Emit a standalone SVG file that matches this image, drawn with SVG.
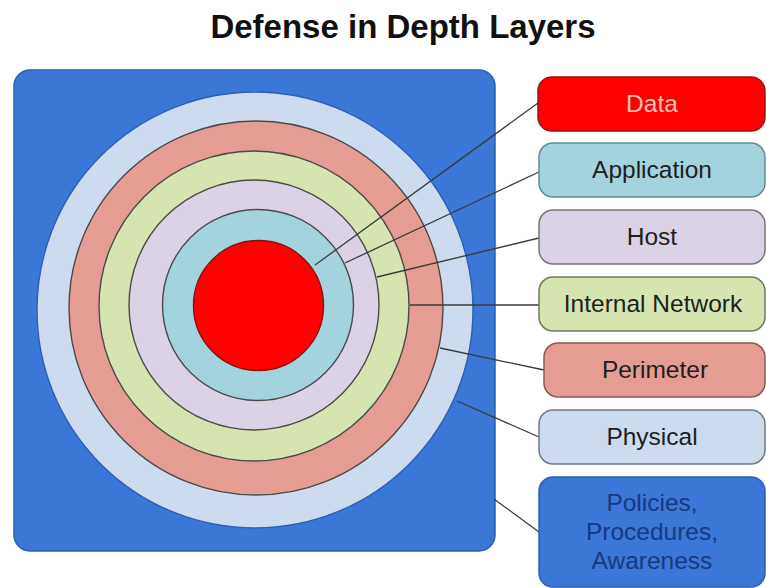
<svg xmlns="http://www.w3.org/2000/svg" width="766" height="588" viewBox="0 0 766 588">
<style>
  .ring { stroke: #4a4a4a; stroke-width: 1.4; }
  .box { stroke-width: 1.5; }
  .lbl { font-family: "Liberation Sans", Arial, sans-serif; font-size: 24.5px; text-anchor: middle; fill: #1e1e1e; }
  .conn line { stroke: #3a3a3a; stroke-width: 1.3; }
</style>
<rect width="766" height="588" fill="#ffffff"/>
<text x="403" y="38" font-family="Liberation Sans, Arial, sans-serif" font-weight="bold" font-size="33" text-anchor="middle" fill="#111">Defense in Depth Layers</text>

<g id="policies-area">
  <rect x="14" y="70" width="481" height="481" rx="16" fill="#3b77d6" stroke="#2c5fb3" stroke-width="1.5"/>
</g>
<g id="physical-ring"><circle cx="255" cy="310" r="218" fill="#cddbee" stroke="#2c5fb3" stroke-width="1.4"/></g>
<g id="perimeter-ring"><circle class="ring" cx="256" cy="308" r="187" fill="#e59c92"/></g>
<g id="internal-ring"><circle class="ring" cx="254" cy="306" r="155" fill="#d6e4b0"/></g>
<g id="host-ring"><circle class="ring" cx="254" cy="305" r="125" fill="#dcd2e6"/></g>
<g id="application-ring"><circle class="ring" cx="258" cy="305" r="95.5" fill="#a3d4de"/></g>
<g id="data-core"><circle cx="258.5" cy="305.5" r="65" fill="#ff0000" stroke="#8a1010" stroke-width="1.4"/></g>

<g id="connectors" class="conn">
  <line x1="315" y1="265" x2="538" y2="103"/>
  <line x1="345" y1="263" x2="539" y2="172"/>
  <line x1="377" y1="277" x2="539" y2="238"/>
  <line x1="410" y1="305" x2="539" y2="305"/>
  <line x1="440" y1="348" x2="544" y2="370"/>
  <line x1="457" y1="401" x2="539" y2="437"/>
  <line x1="494" y1="499" x2="539" y2="532"/>
</g>

<g id="box-data">
  <rect class="box" x="538" y="77" width="227" height="54" rx="14" fill="#ff0000" stroke="#a01010"/>
  <text class="lbl" x="652" y="112" style="fill:#f7c0b0">Data</text>
</g>
<g id="box-application">
  <rect class="box" x="539" y="143" width="226" height="54" rx="14" fill="#a3d4de" stroke="#5e8c96"/>
  <text class="lbl" x="652" y="178">Application</text>
</g>
<g id="box-host">
  <rect class="box" x="539" y="210" width="226" height="54" rx="14" fill="#dcd2e6" stroke="#757575"/>
  <text class="lbl" x="652" y="245">Host</text>
</g>
<g id="box-internal">
  <rect class="box" x="539" y="277" width="226" height="54" rx="14" fill="#d6e4b0" stroke="#6f7a5a"/>
  <text class="lbl" x="653" y="312">Internal Network</text>
</g>
<g id="box-perimeter">
  <rect class="box" x="544" y="343" width="221" height="54" rx="14" fill="#e59c92" stroke="#8a5a52"/>
  <text class="lbl" x="655" y="378">Perimeter</text>
</g>
<g id="box-physical">
  <rect class="box" x="539" y="410" width="226" height="54" rx="14" fill="#cddbee" stroke="#6e7a88"/>
  <text class="lbl" x="652" y="445">Physical</text>
</g>
<g id="box-policies">
  <rect class="box" x="539" y="477" width="226" height="110" rx="14" fill="#3b77d6" stroke="#2c5fb3"/>
  <text class="lbl" x="652" y="511" style="fill:#173a7e">Policies,</text>
  <text class="lbl" x="652" y="540" style="fill:#173a7e">Procedures,</text>
  <text class="lbl" x="652" y="569" style="fill:#173a7e">Awareness</text>
</g>
</svg>
